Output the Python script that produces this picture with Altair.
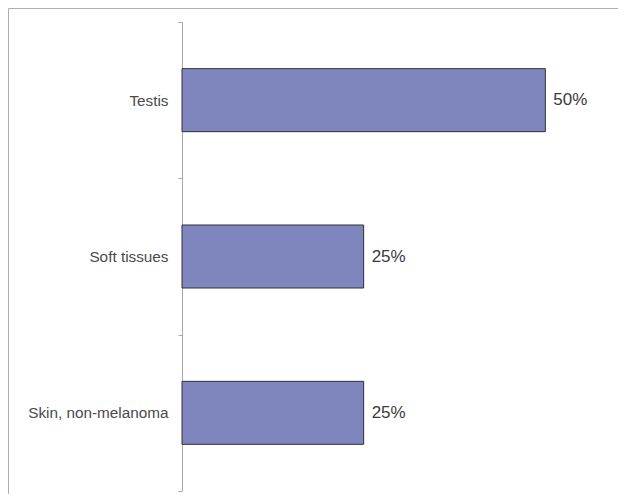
import altair as alt
import pandas as pd

categories = ["Testis", "Soft tissues", "Skin, non-melanoma"]
values = [50, 25, 25]
labels = ["50%", "25%", "25%"]

df = pd.DataFrame({"cat": categories, "val": values, "lab": labels})

W, H = 436, 469

y_enc = alt.Y(
    "cat:N",
    sort=categories,
    title=None,
    scale=alt.Scale(paddingInner=0, paddingOuter=0),
    axis=alt.Axis(
        domainColor="#a8a8a8",
        tickColor="#a8a8a8",
        tickSize=4,
        tickBand="extent",
        labelFont="Liberation Sans",
        labelFontSize=15.3,
        labelColor="#4a4a4a",
        labelPadding=10,
        grid=False,
    ),
)
x_enc = alt.X("val:Q", scale=alt.Scale(domain=[0, 60]), axis=None)

base = alt.Chart(df)
bars = base.mark_bar(fill="#7f86be", stroke="#2f2f3a", strokeWidth=1, size=63).encode(x=x_enc, y=y_enc)
text = base.mark_text(
    align="left", baseline="middle", dx=8, fontSize=17, font="Liberation Sans", color="#3a3a3a"
).encode(x=x_enc, y=alt.Y("cat:N", sort=categories), text="lab:N")

frame_data = alt.Data(values=[{"a": 1}])
frame_top = alt.Chart(frame_data).mark_rule(color="#b0b0b0", strokeWidth=1).encode(
    x=alt.value(-173.5), x2=alt.value(W), y=alt.value(-13.5)
)
frame_left = alt.Chart(frame_data).mark_rule(color="#b0b0b0", strokeWidth=1).encode(
    x=alt.value(-173.5), y=alt.value(-13.5), y2=alt.value(H + 3)
)

chart = alt.layer(frame_top, frame_left, bars, text).properties(
    width=W,
    height=H,
    autosize=alt.AutoSizeParams(type="none"),
    padding={"left": 174, "top": 14, "right": 0, "bottom": 3},
).configure_view(stroke=None)

chart.save("out.html", embed_options={"renderer": "svg", "actions": False})
